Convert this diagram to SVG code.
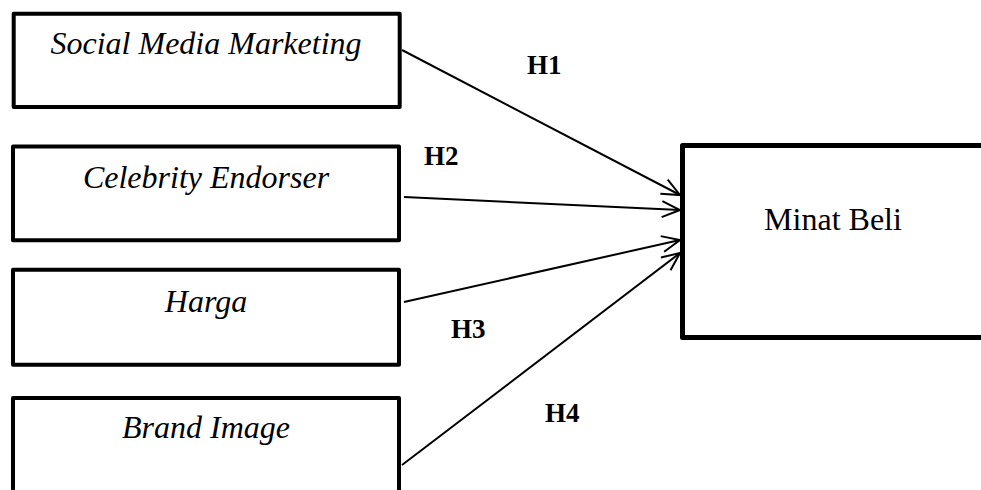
<svg xmlns="http://www.w3.org/2000/svg" width="981" height="490" viewBox="0 0 981 490">
<defs>
<style>
.box{fill:#fff;stroke:#000;stroke-width:4;stroke-linejoin:round}
.lbl{font-family:"Liberation Serif","Times New Roman",serif;font-size:32px;font-style:italic;fill:#000;text-anchor:middle}
.main{font-family:"Liberation Serif","Times New Roman",serif;font-size:32px;fill:#000;text-anchor:middle}
.h{font-family:"Liberation Serif","Times New Roman",serif;font-size:27px;font-weight:bold;fill:#000}
.conn{stroke:#000;stroke-width:2;fill:none}
</style>
<marker id="arr" viewBox="0 0 20 18" markerWidth="20" markerHeight="18" refX="19" refY="9" orient="auto" markerUnits="userSpaceOnUse">
<path d="M1,1 L19,9 L1,17" fill="none" stroke="#000" stroke-width="2"/>
</marker>
</defs>
<rect width="981" height="490" fill="#fff"/>
<g id="connectors">
<line class="conn" x1="402" y1="50" x2="680" y2="195" marker-end="url(#arr)"/>
<line class="conn" x1="404" y1="197" x2="680" y2="210" marker-end="url(#arr)"/>
<line class="conn" x1="404" y1="302" x2="680" y2="240" marker-end="url(#arr)"/>
<line class="conn" x1="402" y1="465" x2="680" y2="253" marker-end="url(#arr)"/>
<text class="h" x="527" y="74">H1</text>
<text class="h" x="424" y="165">H2</text>
<text class="h" x="451" y="338">H3</text>
<text class="h" x="545" y="422">H4</text>
</g>
<g id="smm">
<rect class="box" x="13.7" y="13.7" width="386" height="93.3"/>
<text class="lbl" x="206" y="54">Social Media Marketing</text>
</g>
<g id="ce">
<rect class="box" x="13" y="146.5" width="386" height="93.8"/>
<text class="lbl" x="206" y="188">Celebrity Endorser</text>
</g>
<g id="harga">
<rect class="box" x="13" y="269.8" width="386" height="95"/>
<text class="lbl" x="206" y="312">Harga</text>
</g>
<g id="bi">
<rect class="box" x="13" y="398" width="386" height="200"/>
<text class="lbl" x="206" y="438">Brand Image</text>
</g>
<g id="minat">
<rect class="box" x="682.5" y="145.5" width="400" height="192" style="stroke-width:5"/>
<text class="main" x="833" y="230">Minat Beli</text>
</g>
</svg>
